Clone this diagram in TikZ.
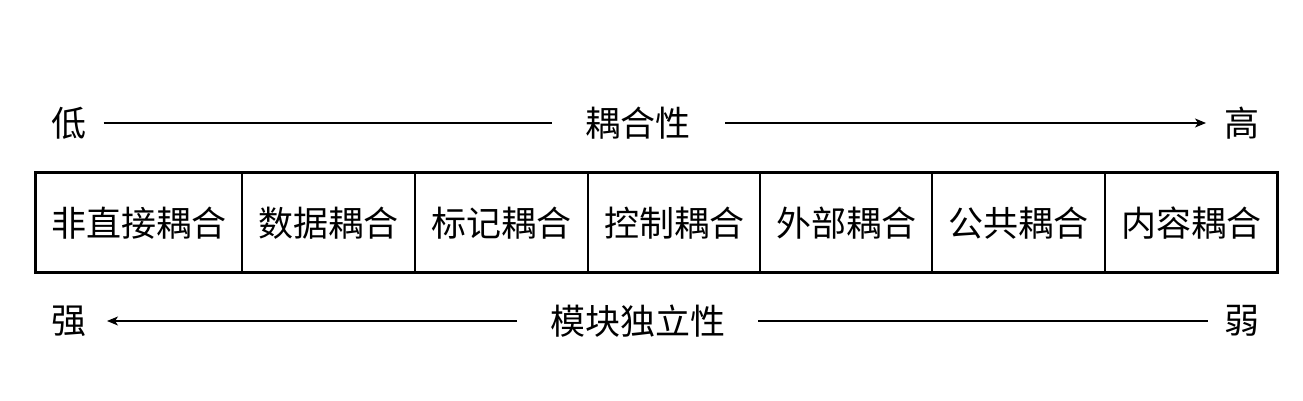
\documentclass[tikz,border=0pt]{standalone}
\usepackage{fontspec}
\setmainfont{Noto Sans CJK SC}
\usetikzlibrary{arrows.meta}
\begin{document}
\begin{tikzpicture}[x=1pt,y=1pt,
  lbl/.style={inner sep=0pt, font=\fontsize{35}{40}\selectfont},
  cell/.style={draw, line width=2pt, inner sep=0pt, outer sep=0pt, minimum height=100pt,
    font=\fontsize{35}{40}\selectfont, anchor=west},
  conn/.style={line width=1.3pt},
  tip/.style={-{Stealth[length=11pt,width=9pt,inset=3pt]}}
]
\useasboundingbox (0,0) rectangle (1303,401);
% top row
\node[lbl] (low) at (69,278) {低};
\node[lbl] (coup) at (638,278) {耦合性};
\node[lbl] (high) at (1242,278) {高};
\draw[conn] (low.east) ++(17,0) coordinate (ls) -- (552,278) coordinate (le);
\draw[conn, tip] (725,278) coordinate (rs) -- (1206,278) coordinate (re);
% cells
\node[cell, minimum width=207pt] (c1) at (35,178) {非直接耦合};
\node[cell, minimum width=173pt] (c2) at (c1.east) {数据耦合};
\node[cell, minimum width=173pt] (c3) at (c2.east) {标记耦合};
\node[cell, minimum width=172pt] (c4) at (c3.east) {控制耦合};
\node[cell, minimum width=172pt] (c5) at (c4.east) {外部耦合};
\node[cell, minimum width=173pt] (c6) at (c5.east) {公共耦合};
\node[cell, minimum width=172pt] (c7) at (c6.east) {内容耦合};
\draw[line width=3pt] (c1.north west) rectangle (c7.south east);
% bottom row
\node[lbl] (strong) at (69,80) {强};
\node[lbl] (indep) at (638,80) {模块独立性};
\node[lbl] (weak) at (1242,80) {弱};
\draw[conn, tip] (517,80) coordinate (bs) -- (107,80) coordinate (be);
\draw[conn] (758,80) coordinate (bs2) -- (1208,80) coordinate (be2);
\end{tikzpicture}
\end{document}
